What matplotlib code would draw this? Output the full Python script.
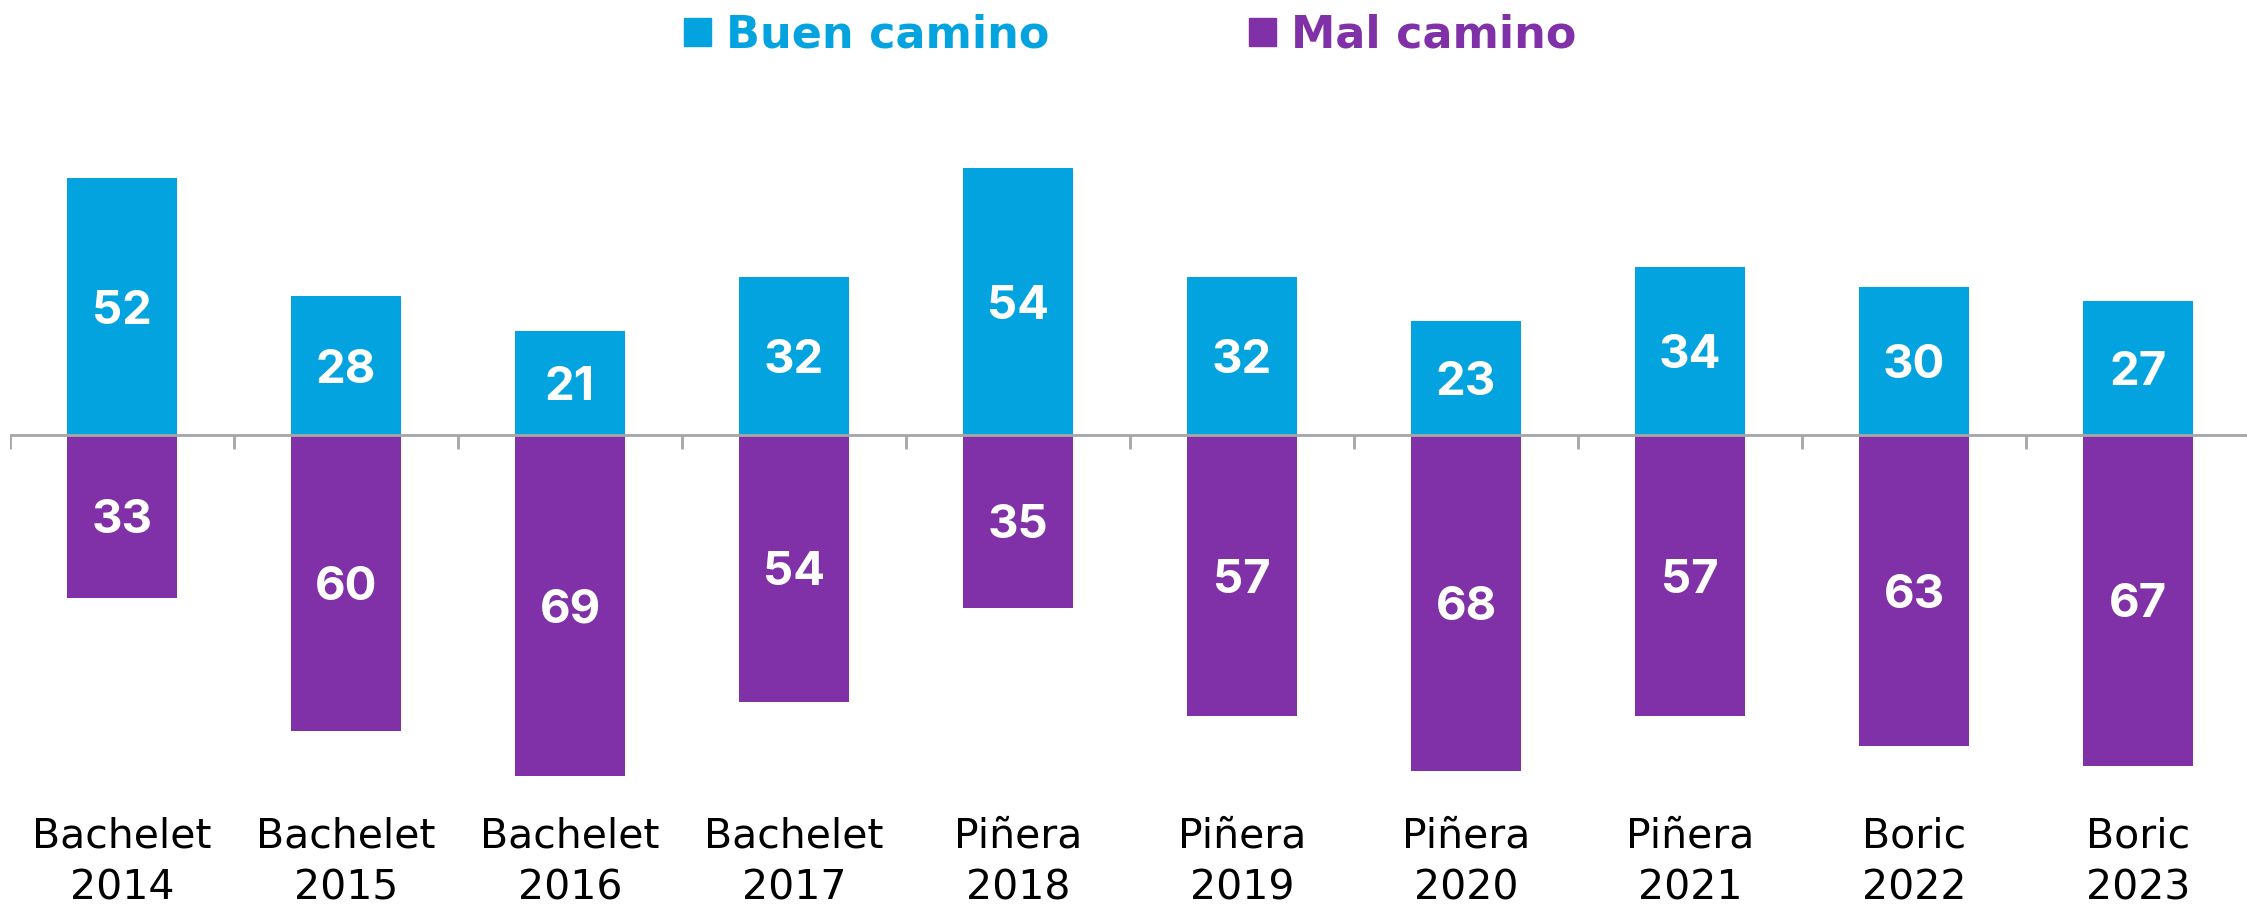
import matplotlib
matplotlib.use("Agg")
import matplotlib.pyplot as plt
from matplotlib.patches import Patch

# Datos
presidents = ["Bachelet", "Bachelet", "Bachelet", "Bachelet", "Piñera",
              "Piñera", "Piñera", "Piñera", "Boric", "Boric"]
years = ["2014", "2015", "2016", "2017", "2018",
         "2019", "2020", "2021", "2022", "2023"]
buen = [52, 28, 21, 32, 54, 32, 23, 34, 30, 27]
mal = [33, 60, 69, 54, 35, 57, 68, 57, 63, 67]

BLUE = "#03a3e0"
PURPLE = "#8031a7"
GRAY = "#a6a6a6"

plt.rcParams["font.family"] = ["DejaVu Sans"]

fig = plt.figure(figsize=(22.47, 9.06), dpi=100)
# y=0 sits at ~435 px from the top, ~4.94 px per point
ax = fig.add_axes([10 / 2247, 76 / 906, 2237 / 2247, 741 / 906])

x = list(range(len(buen)))
ax.bar(x, buen, width=0.49, color=BLUE, zorder=2)
ax.bar(x, [-v for v in mal], width=0.49, color=PURPLE, zorder=2)

ax.set_xlim(-0.5, -0.5 + 2237 / 224)
ax.set_ylim(-80, 70)

# Horizontal axis line and separators between categories
ax.axhline(0, color=GRAY, lw=2, zorder=3)
ax.vlines([i - 0.5 for i in range(len(buen))], -2.8, 0, color=GRAY, lw=2,
          zorder=1)

# Value labels, digits centred vertically in each bar
cap = 0.727 * 34 / 2
for i in x:
    ax.annotate(str(buen[i]), (i, buen[i] / 2), xytext=(0, -cap),
                textcoords="offset points", ha="center", va="baseline",
                color="white", fontsize=34, fontweight="bold",
                family="Inter", zorder=4)
    ax.annotate(str(mal[i]), (i, -mal[i] / 2), xytext=(0, -cap),
                textcoords="offset points", ha="center", va="baseline",
                color="white", fontsize=34, fontweight="bold",
                family="Inter", zorder=4)

# Category labels under the chart
for i in x:
    ax.text(i, -86.6, presidents[i] + "\n" + years[i], ha="center",
            va="center", fontsize=29.5, linespacing=1.4, clip_on=False)

for s in ax.spines.values():
    s.set_visible(False)
ax.set_xticks([])
ax.set_yticks([])

handles = [Patch(color=BLUE), Patch(color=PURPLE)]
fig.legend(handles, ["Buen camino", "Mal camino"], loc="center",
           bbox_to_anchor=(0.503, 0.961), ncol=2, frameon=False,
           labelcolor=[BLUE, PURPLE],
           prop={"size": 32, "weight": "bold"},
           handlelength=0.6, handleheight=0.6, handletextpad=0.34,
           columnspacing=4.5)

fig.savefig("out.png", dpi=100, facecolor="white")
